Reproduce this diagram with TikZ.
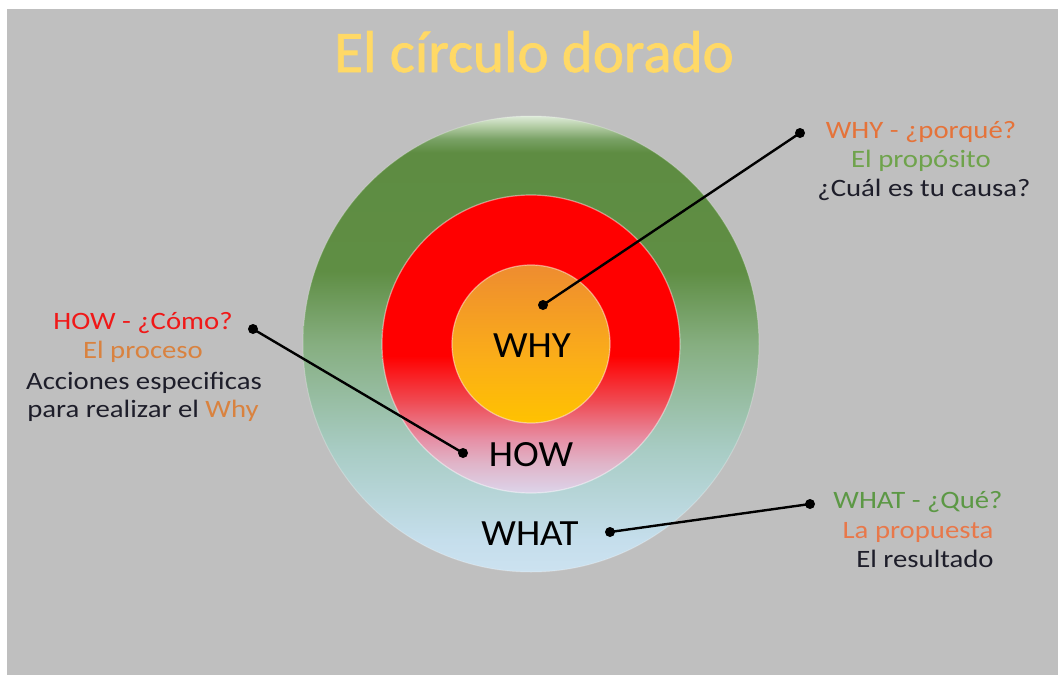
\documentclass[tikz,border=0pt]{standalone}
\usepackage{fontspec}
\setmainfont{Carlito}
\newfontfamily\labfont[FakeStretch=1.15]{Carlito}
\newfontfamily\handfont[FakeStretch=1.05]{Carlito}
\newfontfamily\titlefont[FakeBold=1.2]{Carlito}
\definecolor{bggrey}{HTML}{BFBFBF}
\definecolor{titlegold}{HTML}{FFD966}
\definecolor{og1}{HTML}{CCE2F0}
\definecolor{og2}{HTML}{C5DEEC}
\definecolor{og3}{HTML}{A8CCC4}
\definecolor{og4}{HTML}{86AE80}
\definecolor{og5}{HTML}{5F8E44}
\definecolor{og6}{HTML}{5E8C42}
\definecolor{og7}{HTML}{7AA266}
\definecolor{og8}{HTML}{B8D0AA}
\definecolor{og9}{HTML}{DDEBD8}
\definecolor{rd1}{HTML}{DCD4EA}
\definecolor{rd2}{HTML}{E0B4C8}
\definecolor{rd3}{HTML}{E690A6}
\definecolor{rd4}{HTML}{F04850}
\definecolor{rd5}{HTML}{FF0000}
\definecolor{in1}{HTML}{FFC200}
\definecolor{in2}{HTML}{FBAE18}
\definecolor{in3}{HTML}{EE8C30}
\definecolor{txorange}{HTML}{E5733A}
\definecolor{txgreen}{HTML}{6FA34C}
\definecolor{txdark}{HTML}{1E1E2A}
\definecolor{txred}{HTML}{F01818}
\definecolor{txbrown}{HTML}{D9823F}
\definecolor{txwgreen}{HTML}{5C9845}
\definecolor{txwor}{HTML}{E8784A}
\pgfdeclareverticalshading{outershade}{100bp}{color(0bp)=(og1); color(25bp)=(og1); color(28.5bp)=(og2); color(38.4bp)=(og3); color(50bp)=(og4); color(58bp)=(og5); color(71bp)=(og6); color(72.5bp)=(og7); color(74bp)=(og8); color(75bp)=(og9); color(100bp)=(og9)}
\pgfdeclareverticalshading{redshade}{100bp}{color(0bp)=(rd1); color(25bp)=(rd1); color(30bp)=(rd2); color(34bp)=(rd3); color(40.6bp)=(rd4); color(48bp)=(rd5); color(100bp)=(rd5)}
\pgfdeclareverticalshading{innershade}{100bp}{color(0bp)=(in1); color(25bp)=(in1); color(45bp)=(in2); color(75bp)=(in3); color(100bp)=(in3)}
\tikzset{
  ring/.style={circle, inner sep=0pt, outer sep=0pt},
  dot/.style={circle, fill=black, inner sep=0pt, minimum size=10pt},
  conn/.style={draw=black, line width=2.4pt},
  lab/.style={anchor=base, inner sep=0pt, font=\labfont\fontsize{25}{28}\selectfont},
  hand/.style={anchor=base, inner sep=0pt, text=black, font=\handfont\fontsize{37}{40}\selectfont},
}
\begin{document}
\begin{tikzpicture}[x=1pt, y=-1pt]
\useasboundingbox (0,0) rectangle (1058,675);
\fill[white] (0,0) rectangle (1058,675);
\fill[bggrey] (7,9) rectangle (1058,675);
% title
\node[anchor=base, inner sep=0pt, text=titlegold, font=\titlefont\fontsize{59}{64}\selectfont] (title) at (534,72) {El círculo dorado};
% circles
\node[ring, minimum size=456pt, shading=outershade, draw=white, draw opacity=0.25, line width=1pt] (outer) at (531,344) {};
\node[ring, minimum size=298pt, shading=redshade, draw=white, draw opacity=0.45, line width=1.2pt] (mid) at (531,344) {};
\node[ring, minimum size=158pt, shading=innershade, draw=white, draw opacity=0.45, line width=1.2pt] (inner) at (531,344) {};
% circle labels
\node[hand] (why) at (532,357) {WHY};
\node[hand] (how) at (531,466) {HOW};
\node[hand] (what) at (530,545) {WHAT};
% dots
\node[dot] (dwhyA) at (543,305) {};
\node[dot] (dwhyB) at (800,133) {};
\node[dot] (dhowA) at (253,329) {};
\node[dot] (dhowB) at (463,453) {};
\node[dot] (dwhatA) at (610,532) {};
\node[dot] (dwhatB) at (810,504) {};
% connectors
\draw[conn] (dwhyA.center) -- (dwhyB.center);
\draw[conn] (dhowA.center) -- (dhowB.center);
\draw[conn] (dwhatA.center) -- (dwhatB.center);
% WHY text
\node[lab, text=txorange] (why1) at (921,138) {WHY - ¿porqué?};
\node[lab, text=txgreen] (why2) at (921,167) {El propósito};
\node[lab, text=txdark] (why3) at (924,196) {¿Cuál es tu causa?};
% HOW text
\node[lab, text=txred] (how1) at (143,329) {HOW - ¿Cómo?};
\node[lab, text=txbrown] (how2) at (143,358) {El proceso};
\node[lab, text=txdark] (how3) at (144,389) {Acciones especificas};
\node[lab, text=txdark] (how4) at (143,417) {para realizar el \textcolor{txbrown}{Why}};
% WHAT text
\node[lab, text=txwgreen] (what1) at (918,508) {WHAT - ¿Qué?};
\node[lab, text=txwor] (what2) at (918,538) {La propuesta};
\node[lab, text=txdark] (what3) at (925,567) {El resultado};
\end{tikzpicture}
\end{document}
